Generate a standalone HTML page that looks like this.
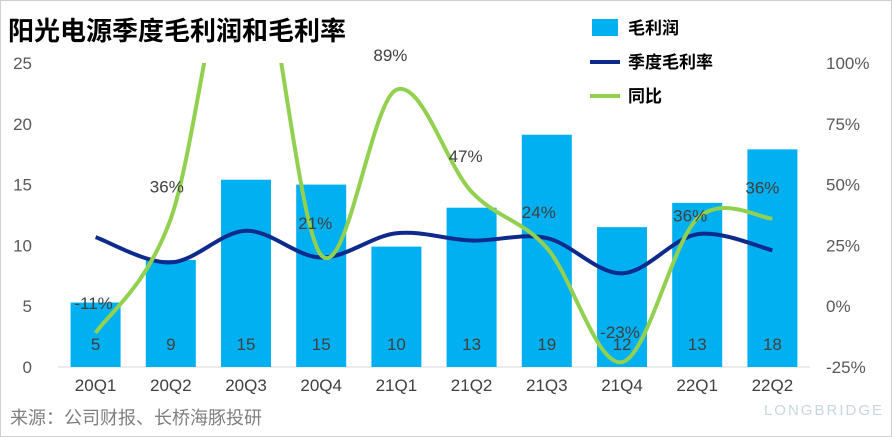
<!DOCTYPE html>
<html><head><meta charset="utf-8">
<style>
body{margin:0;background:#fff;}
svg{display:block;font-family:"Liberation Sans","Noto Sans CJK SC",sans-serif;}
</style></head>
<body>
<svg id="chart" width="892" height="437" viewBox="0 0 892 437">
<rect x="0" y="0" width="892" height="437" fill="#fff"/>
<rect x="0.5" y="0.5" width="891" height="436" fill="none" stroke="#d0d0d0"/>
<text x="8" y="40" font-size="26" font-weight="bold" fill="#000">阳光电源季度毛利润和毛利率</text>
<g id="legend">
<rect x="592" y="19" width="26" height="17" fill="#00B0F0"/>
<text x="628" y="34" font-size="17" font-weight="bold" fill="#000">毛利润</text>
<line x1="590" y1="62" x2="620" y2="62" stroke="#0E2A8C" stroke-width="4"/>
<text x="628" y="68" font-size="17" font-weight="bold" fill="#000">季度毛利率</text>
<line x1="590" y1="96" x2="620" y2="96" stroke="#92D050" stroke-width="4"/>
<text x="628" y="102" font-size="17" font-weight="bold" fill="#000">同比</text>
</g>
<text x="10" y="424" font-size="18" fill="#7f7f7f">来源：公司财报、长桥海豚投研</text>
<text x="884" y="415" font-size="15" fill="#c8d6e0" text-anchor="end" letter-spacing="2">LONGBRIDGE</text>
<g id="plot"></g>
</svg>
<script>
const categories=["20Q1","20Q2","20Q3","20Q4","21Q1","21Q2","21Q3","21Q4","22Q1","22Q2"];
const grossProfit=[5.3,8.8,15.4,15.0,9.9,13.1,19.1,11.5,13.5,17.9];
const grossProfitLabels=["5","9","15","15","10","13","19","12","13","18"];
const marginPct=[28.4,18,31,20,30,27,28,13.5,29.6,23];
const yoyPct=[-11,36,160,21,89,47,24,-23,36,36];
const yoyLabels=["-11%","36%","","21%","89%","47%","24%","-23%","36%","36%"];
const leftTicks=[0,5,10,15,20,25];
const rightTicks=[-25,0,25,50,75,100];
// label placement offsets (layout only)
const labelDx=[-2,-4,0,-6,-6,-6,-8,-2,-7,-10];
const labelDy=[-24,-26,0,-26,-29,-30,-30,-24,3,-25];

const NS="http://www.w3.org/2000/svg";
const plot=document.getElementById('plot');
const X0=58,X1=810,Y0=367,Y1=63;
const step=(X1-X0)/categories.length;
const xs=i=>X0+step*(i+0.5);
const yL=v=>Y0-(v/25)*(Y0-Y1);
const yR=v=>Y0-((v+25)/125)*(Y0-Y1);
function mk(tag,attrs,parent){const e=document.createElementNS(NS,tag);for(const k in attrs)e.setAttribute(k,attrs[k]);(parent||plot).appendChild(e);return e;}

const defs=mk('defs',{});
const cp=mk('clipPath',{id:'clip'},defs);
mk('rect',{x:X0,y:Y1,width:X1-X0,height:Y0-Y1},cp);

leftTicks.forEach(t=>{
  const e=mk('text',{x:32,y:yL(t)+6,'font-size':17,fill:'#595959','text-anchor':'end'});
  e.textContent=t;
  
  
});
rightTicks.forEach(t=>{
  const e=mk('text',{x:826,y:yR(t)+6,'font-size':17,fill:'#595959'});
  e.textContent=t+'%';
  
  
});
const ax=mk('line',{x1:X0,y1:Y0,x2:X1,y2:Y0,stroke:'#d9d9d9'});



categories.forEach((c,i)=>{
  const b=mk('rect',{x:xs(i)-25,y:yL(grossProfit[i]),width:50,height:Y0-yL(grossProfit[i]),fill:'#00B0F0'});
  
  
  const t=mk('text',{x:xs(i),y:Y0-17,'font-size':17,fill:'#404040','text-anchor':'middle'});
  t.textContent=grossProfitLabels[i];
  
  
  const l=mk('text',{x:xs(i),y:Y0+24,'font-size':17,fill:'#404040','text-anchor':'middle'});
  l.textContent=c;
  
  
});

function smooth(pts){
  let d='M'+pts[0][0]+','+pts[0][1];
  for(let i=0;i<pts.length-1;i++){
    const p0=pts[i-1]||pts[i],p1=pts[i],p2=pts[i+1],p3=pts[i+2]||p2;
    const c1=[p1[0]+(p2[0]-p0[0])/6,p1[1]+(p2[1]-p0[1])/6];
    const c2=[p2[0]-(p3[0]-p1[0])/6,p2[1]-(p3[1]-p1[1])/6];
    d+=' C'+c1[0]+','+c1[1]+' '+c2[0]+','+c2[1]+' '+p2[0]+','+p2[1];
  }
  return d;
}
const m=mk('path',{d:smooth(marginPct.map((v,i)=>[xs(i),yR(v)])),fill:'none',stroke:'#0E2A8C','stroke-width':4,'clip-path':'url(#clip)'});


const y=mk('path',{d:smooth(yoyPct.map((v,i)=>[xs(i),yR(v)])),fill:'none',stroke:'#92D050','stroke-width':4,'clip-path':'url(#clip)'});



yoyPct.forEach((v,i)=>{
  if(!yoyLabels[i])return;
  const t=mk('text',{x:xs(i)+labelDx[i],y:yR(v)+labelDy[i],'font-size':17,fill:'#404040','text-anchor':'middle'});
  t.textContent=yoyLabels[i];
  
  
});
</script>
</body></html>
